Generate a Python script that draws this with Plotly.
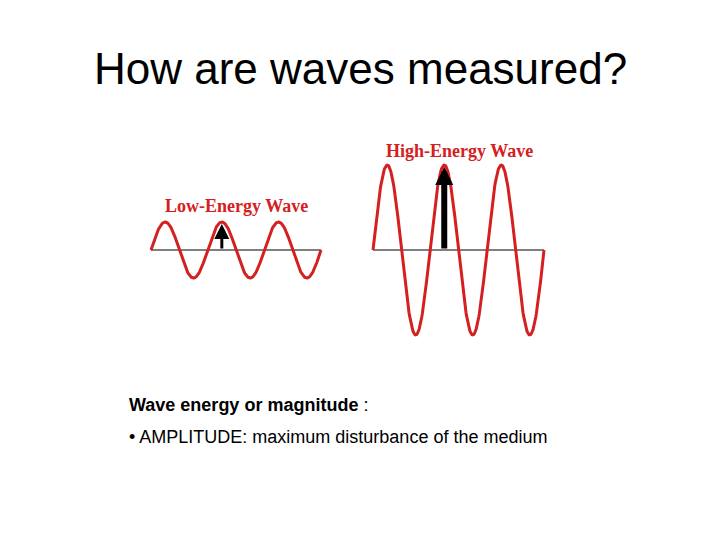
import numpy as np
import plotly.graph_objects as go

# diagram parameters (pixel units)
wave_names = ["Low-Energy Wave", "High-Energy Wave"]
wave_x0 = [151, 373]
wave_x1 = [321, 544]
wave_amp = [28, 85]
wave_cycles = [3, 3]
baseline_y = 250

fig = go.Figure()
for x0, x1, a, c in zip(wave_x0, wave_x1, wave_amp, wave_cycles):
    x = np.linspace(x0, x1, 400)
    y = baseline_y - a * np.sin(2 * np.pi * c * (x - x0) / (x1 - x0))
    fig.add_trace(go.Scatter(x=[x0, x1], y=[baseline_y, baseline_y], mode="lines",
                             line=dict(color="black", width=1), hoverinfo="skip"))
    fig.add_trace(go.Scatter(x=x, y=y, mode="lines", line=dict(color="#d42020", width=3), hoverinfo="skip"))
    xc = x0 + (x1 - x0) * 1.25 / c
    fig.add_annotation(x=xc, y=baseline_y - a + 2, ax=xc, ay=baseline_y, xref="x", yref="y",
                       axref="x", ayref="y", showarrow=True, arrowhead=2,
                       arrowwidth=3 if a < 50 else 6, arrowsize=1 if a < 50 else 0.6,
                       arrowcolor="black", text="")

fig.add_annotation(x=236, y=206, text="<b>Low-Energy Wave</b>", showarrow=False, xref="x", yref="y",
                   font=dict(family="Liberation Serif", size=18, color="#d42020"))
fig.add_annotation(x=459, y=151, text="<b>High-Energy Wave</b>", showarrow=False, xref="x", yref="y",
                   font=dict(family="Liberation Serif", size=18, color="#d42020"))
fig.add_annotation(x=360, y=68, text="How are waves measured?", showarrow=False, xref="x", yref="y",
                   font=dict(family="Liberation Sans", size=44, color="black"))
fig.add_annotation(x=127, y=405, text="<b>Wave energy or magnitude</b> :", showarrow=False, xref="x", yref="y",
                   xanchor="left", font=dict(family="Liberation Sans", size=18, color="black"))
fig.add_annotation(x=127, y=437, text="• AMPLITUDE: maximum disturbance of the medium", showarrow=False,
                   xref="x", yref="y", xanchor="left",
                   font=dict(family="Liberation Sans", size=18, color="black"))

fig.update_layout(width=720, height=540, margin=dict(l=0, r=0, t=0, b=0),
                  plot_bgcolor="white", paper_bgcolor="white", showlegend=False,
                  xaxis=dict(range=[8, 728], visible=False),
                  yaxis=dict(range=[548, 8], visible=False))
fig.write_html("out.html")
